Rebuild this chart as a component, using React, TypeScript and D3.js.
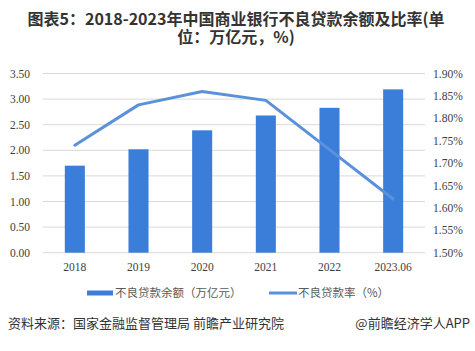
import React from "react";
import * as d3 from "d3";

const categories = ["2018", "2019", "2020", "2021", "2022", "2023.06"];
const balance = [1.7, 2.02, 2.39, 2.68, 2.83, 3.19];
const ratio = [1.74, 1.83, 1.86, 1.84, 1.73, 1.62];
const leftTicks = [0, 0.5, 1, 1.5, 2, 2.5, 3, 3.5];
const rightTicks = [1.5, 1.55, 1.6, 1.65, 1.7, 1.75, 1.8, 1.85, 1.9];

const W = 475;
const H = 351;
const plot = { left: 43, right: 425, top: 73.5, bottom: 252.7 };

export default function App() {
  const x = d3.scaleBand<string>().domain(categories).range([plot.left, plot.right]).paddingInner(0.685).paddingOuter(0.3425);
  const yL = d3.scaleLinear().domain([0, 3.5]).range([plot.bottom, plot.top]);
  const yR = d3.scaleLinear().domain([1.5, 1.9]).range([plot.bottom, plot.top]);
  const cx = (c: string) => (x(c) as number) + x.bandwidth() / 2;
  const line = d3
    .line<number>()
    .x((_, i) => cx(categories[i]))
    .y((d) => yR(d));
  const tickFont = "'Liberation Serif', 'Times New Roman', serif";
  const cjk = "'Noto Sans CJK SC', 'Noto Sans', sans-serif";
  const barColor = "#3b7ed9";
  const lineColor = "#5b91db";
  return (
    <svg width={W} height={H} style={{ position: "absolute", left: 0, top: 0, background: "#fff" }}>
      <rect width={W} height={H} fill="#fff" />
      <text x={236} y={25} textAnchor="middle" fontFamily={cjk} fontWeight="bold" fontSize={16} fill="#333">
        图表5：2018-2023年中国商业银行不良贷款余额及比率(单
      </text>
      <text x={236} y={43} textAnchor="middle" fontFamily={cjk} fontWeight="bold" fontSize={16} fill="#333">
        位：万亿元，%)
      </text>
      {leftTicks.map((t) => (
        <line key={"g" + t} x1={plot.left} x2={plot.right} y1={yL(t)} y2={yL(t)} stroke="#d9d9d9" strokeWidth={1} />
      ))}
      {leftTicks.map((t) => (
        <text key={"l" + t} x={30} y={yL(t) + 4} textAnchor="end" fontFamily={tickFont} fontSize={11.5} fill="#404040">
          {t.toFixed(2)}
        </text>
      ))}
      {rightTicks.map((t) => (
        <text key={"r" + t} x={433} y={yR(t) + 4} textAnchor="start" fontFamily={tickFont} fontSize={11.5} fill="#404040">
          {t.toFixed(2) + "%"}
        </text>
      ))}
      {categories.map((c, i) => (
        <rect key={"b" + c} x={x(c)} y={yL(balance[i])} width={x.bandwidth()} height={plot.bottom - yL(balance[i])} fill={barColor} />
      ))}
      <path d={line(ratio) || ""} fill="none" stroke={lineColor} strokeWidth={3} strokeLinecap="round" strokeLinejoin="round" />
      {categories.map((c) => (
        <text key={"x" + c} x={cx(c)} y={271} textAnchor="middle" fontFamily={tickFont} fontSize={11.5} fill="#404040">
          {c}
        </text>
      ))}
      <rect x={87} y={290.5} width={26} height={5} fill={barColor} />
      <text x={115} y={297} fontFamily={cjk} fontSize={11.5} fill="#595959">
        不良贷款余额（万亿元）
      </text>
      <line x1={269} x2={297} y1={293} y2={293} stroke={lineColor} strokeWidth={3} />
      <text x={298} y={297} fontFamily={cjk} fontSize={11.5} fill="#595959">
        不良贷款率（%）
      </text>
      <text x={8} y={328} fontFamily={cjk} fontSize={13} fill="#333">
        资料来源：国家金融监督管理局 前瞻产业研究院
      </text>
      <text x={470} y={328} textAnchor="end" fontFamily={cjk} fontSize={13} fill="#333">
        @前瞻经济学人APP
      </text>
    </svg>
  );
}
